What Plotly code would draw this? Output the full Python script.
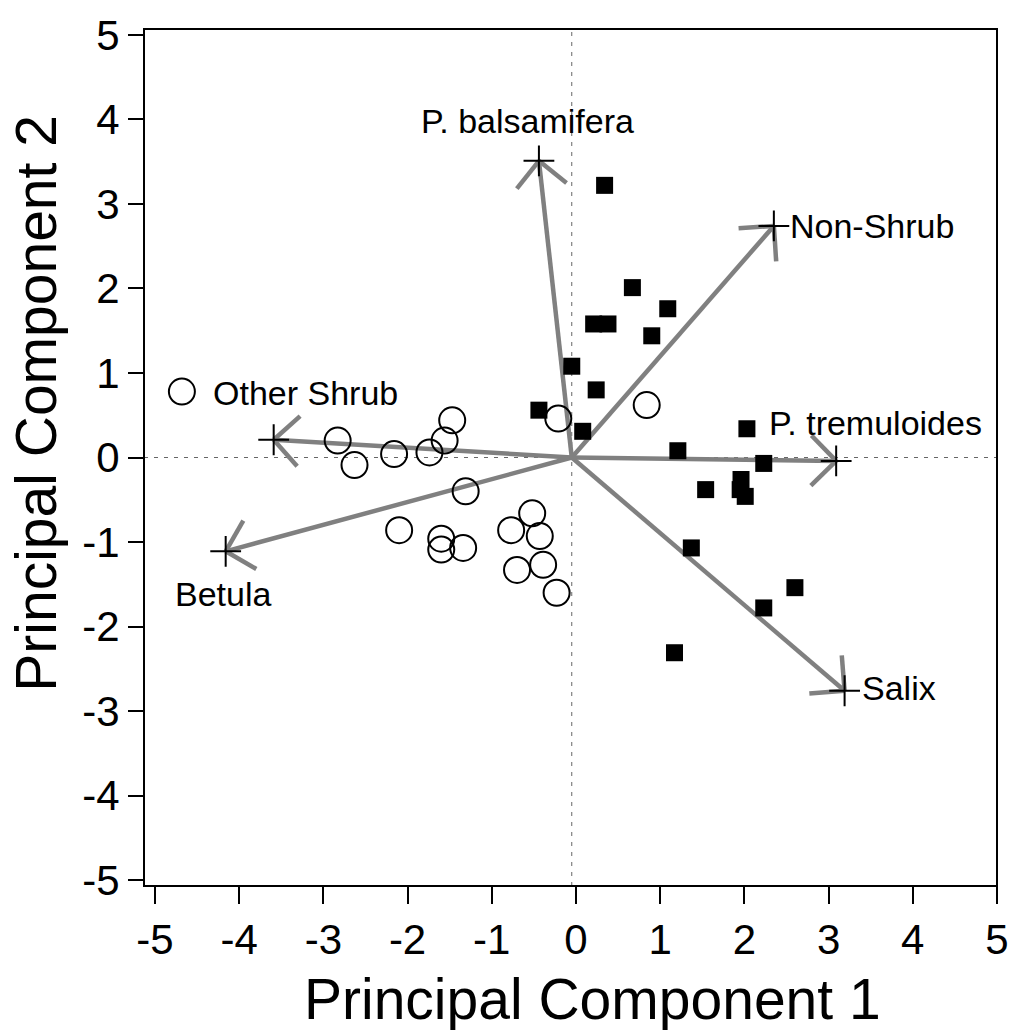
import math
import plotly.graph_objects as go

# Site scores on the first two principal components
shrub_pc1 = [-4.68, -2.83, -2.63, -2.16, -1.74, -1.56, -1.47, -1.31, -2.10, -1.60,
             -1.60, -1.34, -0.77, -0.52, -0.43, -0.70, -0.39, -0.23, -0.21, 0.84]
shrub_pc2 = [0.78, 0.20, -0.09, 0.04, 0.06, 0.20, 0.44, -0.40, -0.86, -0.96,
             -1.09, -1.07, -0.86, -0.66, -0.93, -1.33, -1.27, -1.60, 0.46, 0.62]

nonshrub_pc1 = [0.34, 0.67, 1.09, 0.21, 0.38, 0.90, -0.05, 0.24, -0.44, 0.08, 1.21,
                2.03, 2.23, 1.54, 1.96, 1.95, 2.01, 1.37, 2.60, 2.23, 1.17]
nonshrub_pc2 = [3.22, 2.01, 1.76, 1.58, 1.58, 1.44, 1.08, 0.80, 0.56, 0.31, 0.08,
                0.34, -0.07, -0.38, -0.26, -0.38, -0.46, -1.07, -1.54, -1.78, -2.31]

# Variable loadings (biplot vectors)
var_names = ["P. balsamifera", "Non-Shrub", "P. tremuloides", "Salix", "Other Shrub", "Betula"]
var_pc1 = [-0.44, 2.35, 3.09, 3.19, -3.59, -4.16]
var_pc2 = [3.51, 2.74, -0.04, -2.76, 0.21, -1.11]

# Axis ticks
tick_vals = [-5, -4, -3, -2, -1, 0, 1, 2, 3, 4, 5]
tick_text = [str(v) for v in tick_vals]

# Label anchors for the vectors (x, y, xanchor)
label_pos = [(-0.57, 3.98, "center"), (2.52, 2.74, "left"), (2.27, 0.41, "left"),
             (3.37, -2.73, "left"), (-4.33, 0.76, "left"), (-4.78, -1.62, "left")]

ORIGIN_X, ORIGIN_Y = -0.05, 0.0
WING = 0.42          # arrowhead wing length in axis units
ARROW_COLOR = "#808080"
FONT = "Liberation Sans, Arial, sans-serif"

fig = go.Figure()

# reference lines through the origin
fig.add_shape(type="line", xref="paper", yref="y", x0=0, x1=1, y0=0, y1=0,
              line=dict(color="#666666", width=1, dash="4px,6px"), layer="below")
fig.add_shape(type="line", xref="x", yref="paper", x0=ORIGIN_X, x1=ORIGIN_X, y0=0, y1=1,
              line=dict(color="#666666", width=1, dash="4px,6px"), layer="below")

# vectors with open arrowheads
for name, vx, vy in zip(var_names, var_pc1, var_pc2):
    dx, dy = vx - ORIGIN_X, vy - ORIGIN_Y
    n = math.hypot(dx, dy)
    ux, uy = dx / n, dy / n
    xs = [ORIGIN_X, vx, None]
    ys = [ORIGIN_Y, vy, None]
    for ang in (math.radians(45), math.radians(-45)):
        rx = ux * math.cos(ang) - uy * math.sin(ang)
        ry = ux * math.sin(ang) + uy * math.cos(ang)
        xs += [vx, vx - WING * rx, None]
        ys += [vy, vy - WING * ry, None]
    fig.add_trace(go.Scatter(x=xs, y=ys, mode="lines", hoverinfo="skip",
                             line=dict(color=ARROW_COLOR, width=4.5), showlegend=False))

# crosshair at each vector tip
fig.add_trace(go.Scatter(x=var_pc1, y=var_pc2, mode="markers", showlegend=False,
                         marker=dict(symbol="cross-thin", size=22, color="black",
                                     line=dict(color="black", width=2))))

fig.add_trace(go.Scatter(x=shrub_pc1, y=shrub_pc2, mode="markers", name="Shrub",
                         marker=dict(symbol="circle-open", size=26, color="black",
                                     line=dict(color="black", width=2)),
                         showlegend=False))
fig.add_trace(go.Scatter(x=nonshrub_pc1, y=nonshrub_pc2, mode="markers", name="Non-shrub",
                         marker=dict(symbol="square", size=17, color="black"),
                         showlegend=False))

for name, (lx, ly, anc) in zip(var_names, label_pos):
    fig.add_annotation(x=lx, y=ly, xref="x", yref="y", text=name, showarrow=False,
                       xanchor=anc, yanchor="middle",
                       font=dict(family=FONT, size=34, color="black"))

W, H = 1021, 1030
L, R, T, B = 144, 17, 24, 144
pw, ph = W - L - R, H - T - B

# axis titles, placed in pixel terms relative to the plot area
fig.add_annotation(text="Principal Component 1", showarrow=False,
                   xref="paper", yref="paper",
                   x=(596 - L) / pw, y=(H - B - 1000) / ph,
                   xanchor="center", yanchor="middle",
                   font=dict(family=FONT, size=57, color="black"))
fig.add_annotation(text="Principal Component 2", showarrow=False, textangle=-90,
                   xref="paper", yref="paper",
                   x=(35 - L) / pw, y=(H - B - 400) / ph,
                   xanchor="center", yanchor="middle",
                   font=dict(family=FONT, size=57, color="black"))

# frame
fig.add_shape(type="rect", xref="paper", yref="paper", x0=0, x1=1, y0=0, y1=1,
              line=dict(color="black", width=2))

fig.update_layout(
    width=W, height=H,
    margin=dict(l=L, r=R, t=T, b=B),
    plot_bgcolor="white", paper_bgcolor="white",
    font=dict(family=FONT, color="black"),
    xaxis=dict(range=[-5.13, 5.0], tickvals=tick_vals, ticktext=tick_text,
               ticks="outside", ticklen=17, tickwidth=2, tickcolor="black",
               showgrid=False, zeroline=False, showline=False,
               tickfont=dict(family=FONT, size=42, color="black")),
    yaxis=dict(range=[-5.07, 5.07], tickvals=tick_vals, ticktext=tick_text,
               ticks="outside", ticklen=15, tickwidth=2, tickcolor="black",
               showgrid=False, zeroline=False, showline=False,
               tickfont=dict(family=FONT, size=42, color="black")),
)

fig.write_html("out.html")
